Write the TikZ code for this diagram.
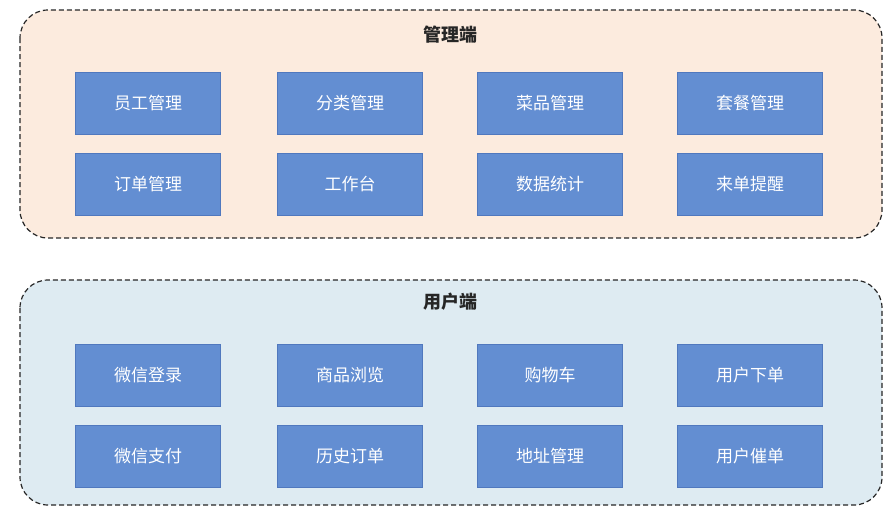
\documentclass[tikz,border=0pt]{standalone}
\usepackage{fontspec}
\setmainfont{Noto Sans CJK SC}
\tikzset{every picture/.style={line width=0.75pt}}
\tikzset{
  panel/.style={draw=black!85, dash pattern={on 5pt off 3pt}, line width=1.2pt, rounded corners=28pt},
  func/.style={draw={rgb,255:red,80;green,120;blue,190}, fill={rgb,255:red,99;green,142;blue,210}, text=white,
    minimum width=145pt, minimum height=62pt, inner sep=0pt, font=\fontsize{17}{20}\selectfont},
  title/.style={font=\bfseries\fontsize{18}{21}\selectfont, text=black!85}
}
\begin{document}
\begin{tikzpicture}[x=1pt,y=1pt,yscale=-1,xscale=1]
\useasboundingbox (0,0) rectangle (891,530);

%Admin panel
\draw [panel, fill={rgb,255:red,252;green,235;blue,222}] (20,10) rectangle (882,238);
\node [title] (admin) at (450,35) {管理端};
\node [func] (staff) at (148,103) {员工管理};
\node [func] (category) at (350,103) {分类管理};
\node [func] (dish) at (550,103) {菜品管理};
\node [func] (setmeal) at (750,103) {套餐管理};
\node [func] (order) at (148,184) {订单管理};
\node [func] (workbench) at (350,184) {工作台};
\node [func] (stats) at (550,184) {数据统计};
\node [func] (remind) at (750,184) {来单提醒};

%User panel
\draw [panel, fill={rgb,255:red,222;green,235;blue,242}] (20,280) rectangle (882,505);
\node [title] (user) at (450,302) {用户端};
\node [func] (login) at (148,375) {微信登录};
\node [func] (browse) at (350,375) {商品浏览};
\node [func] (cart) at (550,375) {购物车};
\node [func] (submit) at (750,375) {用户下单};
\node [func] (pay) at (148,456) {微信支付};
\node [func] (history) at (350,456) {历史订单};
\node [func] (address) at (550,456) {地址管理};
\node [func] (urge) at (750,456) {用户催单};

\end{tikzpicture}
\end{document}
